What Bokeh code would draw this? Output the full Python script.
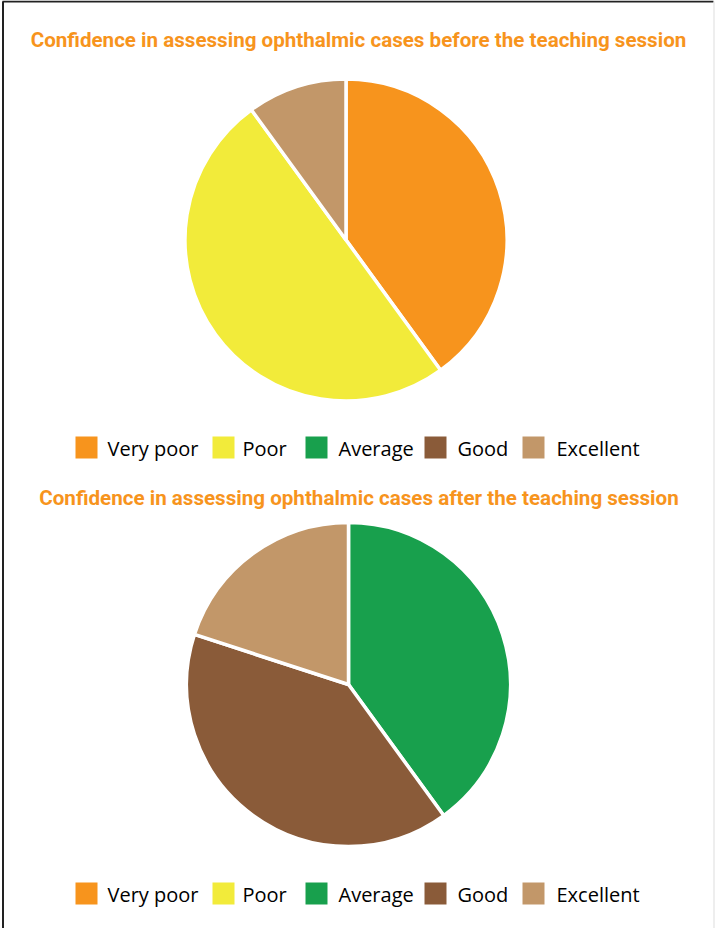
import math
from bokeh.plotting import figure
from bokeh.models import Range1d, ColumnDataSource
from bokeh.core.properties import value
from bokeh.embed import file_html
from bokeh.resources import INLINE

# ---- data ----
categories = ["Very poor", "Poor", "Average", "Good", "Excellent"]
colors = ["#F7941D", "#F2EB3A", "#18A04D", "#8A5B39", "#C29769"]
before_counts = [4, 5, 0, 0, 1]
after_counts = [0, 0, 4, 4, 2]
title_before = "Confidence in assessing ophthalmic cases before the teaching session"
title_after = "Confidence in assessing ophthalmic cases after the teaching session"

# ---- layout (page pixel coordinates, y measured from top) ----
W, H = 715, 928
PAGE_H = 928

def Y(sy):
    return PAGE_H - sy

p = figure(width=W, height=H, x_range=Range1d(0, W), y_range=Range1d(PAGE_H - H, PAGE_H),
           output_backend="svg", toolbar_location=None, min_border=0,
           background_fill_color="white", border_fill_color="white")
p.axis.visible = False
p.grid.visible = False
p.outline_line_color = None

# frame lines of the original image
p.segment(x0=[2, 2.5], y0=[Y(1), Y(1)], x1=[713, 2.5], y1=[Y(1), Y(928)],
          line_color="#222222", line_width=2)
p.segment(x0=[713.5], y0=[Y(1)], x1=[713.5], y1=[Y(928)], line_color="#DDDDDD", line_width=1)

def draw_pie(counts, cx, cy, r):
    total = float(sum(counts))
    cum = 0.0
    xs, ys, st, en, cols = [], [], [], [], []
    for c, col in zip(counts, colors):
        if c <= 0:
            continue
        a0 = math.pi / 2 - 2 * math.pi * (cum + c) / total
        a1 = math.pi / 2 - 2 * math.pi * cum / total
        cum += c
        xs.append(cx); ys.append(Y(cy)); st.append(a0); en.append(a1); cols.append(col)
    src = ColumnDataSource(dict(x=xs, y=ys, s=st, e=en, c=cols))
    p.wedge(x="x", y="y", radius=r, start_angle="s", end_angle="e", source=src,
            fill_color="c", line_color="white", line_width=3.5)

def draw_title(txt, cx, cy):
    p.text(x=[cx], y=[Y(cy)], text=[txt], text_font=value("Roboto"), text_font_style="bold",
           text_font_size="20.6px", text_color="#F7941D", text_align="center",
           text_baseline="middle")

sq_left = [75, 212, 305, 424, 522]
txt_left = [107, 242, 338, 457, 556]

def draw_legend(cy):
    sq = 22
    p.rect(x=[l + sq / 2 for l in sq_left], y=[Y(cy)] * len(sq_left), width=sq, height=sq,
           fill_color=colors, line_color=None)
    p.text(x=txt_left, y=[Y(cy + 1)] * len(txt_left), text=categories,
           text_font=value("Open Sans"), text_font_size="20px", text_color="#000000",
           text_align="left", text_baseline="middle")

draw_title(title_before, 358, 39)
draw_pie(before_counts, 345.5, 239.5, 161)
draw_legend(447)

draw_title(title_after, 358.5, 497)
draw_pie(after_counts, 348, 684, 162)
draw_legend(893)

open("out.html", "w").write(file_html(p, INLINE))
